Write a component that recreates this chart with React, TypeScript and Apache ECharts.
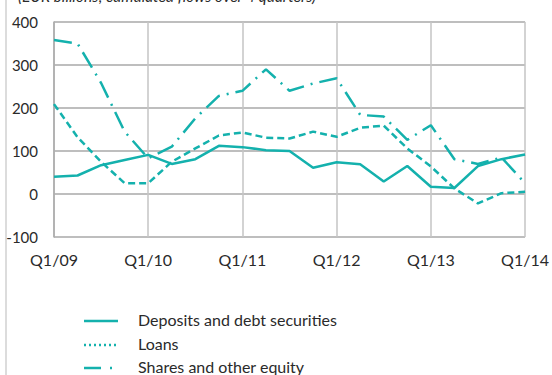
import React, { useEffect, useRef } from "react";
import * as echarts from "echarts";

const categories = [
  "Q1/09", "Q2/09", "Q3/09", "Q4/09",
  "Q1/10", "Q2/10", "Q3/10", "Q4/10",
  "Q1/11", "Q2/11", "Q3/11", "Q4/11",
  "Q1/12", "Q2/12", "Q3/12", "Q4/12",
  "Q1/13", "Q2/13", "Q3/13", "Q4/13",
  "Q1/14",
];
const deposits = [40, 43, 67, 79, 91, 70, 81, 112, 109, 102, 100, 61, 74, 69, 29, 65, 17, 14, 65, 81, 92];
const loans = [209, 132, 75, 25, 25, 75, 106, 136, 143, 131, 129, 145, 133, 154, 159, 106, 64, 13, -22, 2, 5];
const shares = [358, 350, 258, 145, 83, 110, 176, 228, 240, 290, 240, 257, 269, 184, 180, 126, 160, 81, 70, 85, 25];
const yTicks = { min: -100, max: 400, interval: 100 };
const title = "(EUR billions; cumulated flows over 4 quarters)";
const seriesNames = ["Deposits and debt securities", "Loans", "Shares and other equity"];

const COLOR = "#14b1ad";
const TEXT = "#2a2a2a";
const FONT = "Lato, 'Open Sans', sans-serif";

export default function App() {
  const ref = useRef<HTMLDivElement>(null);
  useEffect(() => {
    if (!ref.current) return;
    const chart = echarts.init(ref.current, undefined, { renderer: "svg" });
    const legendRows = [321, 345, 368];
    const legendX0 = 84;
    const legendX1 = 118;
    const legendTextX = 138;
    const legendGraphics: any[] = [];
    seriesNames.forEach((name, i) => {
      const y = legendRows[i];
      if (i === 0) {
        legendGraphics.push({
          type: "line",
          shape: { x1: legendX0, y1: y, x2: legendX1, y2: y },
          style: { stroke: COLOR, lineWidth: 2.5 },
          silent: true,
        });
      } else if (i === 1) {
        legendGraphics.push({
          type: "line",
          shape: { x1: legendX0, y1: y, x2: legendX1, y2: y },
          style: { stroke: COLOR, lineWidth: 2.5, lineDash: [2, 3] },
          silent: true,
        });
      } else {
        legendGraphics.push({
          type: "line",
          shape: { x1: legendX0, y1: y, x2: legendX0 + 17, y2: y },
          style: { stroke: COLOR, lineWidth: 2.5 },
          silent: true,
        });
        legendGraphics.push({
          type: "line",
          shape: { x1: legendX0 + 26, y1: y, x2: legendX0 + 28, y2: y },
          style: { stroke: COLOR, lineWidth: 2.5 },
          silent: true,
        });
      }
      legendGraphics.push({
        type: "text",
        left: legendTextX,
        top: y - 10,
        style: { text: name, fontSize: 16, fontFamily: FONT, fill: TEXT },
        silent: true,
      });
    });

    chart.setOption({
      animation: false,
      backgroundColor: "#ffffff",
      textStyle: { fontFamily: FONT },
      grid: { left: 54, right: 24, top: 22, bottom: 138, containLabel: false },
      xAxis: {
        type: "category",
        data: categories,
        boundaryGap: false,
        axisLine: { show: false },
        axisTick: { show: false },
        axisLabel: {
          interval: 3,
          margin: 14,
          fontSize: 16,
          color: TEXT,
          fontFamily: FONT,
        },
        splitLine: {
          show: true,
          interval: 3,
          lineStyle: { color: "#c4c4c4", width: 1.5 },
        },
      },
      yAxis: {
        type: "value",
        min: yTicks.min,
        max: yTicks.max,
        interval: yTicks.interval,
        axisLine: { show: true, lineStyle: { color: "#a8a8a8", width: 1.5 } },
        axisTick: { show: false },
        axisLabel: {
          margin: 16,
          fontSize: 15,
          color: TEXT,
          fontFamily: FONT,
        },
        splitLine: { show: true, lineStyle: { color: "#a8a8a8", width: 1.5 } },
      },
      graphic: [
        {
          type: "line",
          shape: { x1: 6, y1: 0, x2: 6, y2: 375 },
          style: { stroke: "#d0d0d0", lineWidth: 1.5 },
          silent: true,
        },
        {
          type: "text",
          left: 18,
          top: -12,
          style: {
            text: title,
            fontSize: 15.5,
            fontStyle: "italic",
            fontFamily: FONT,
            fill: TEXT,
          },
          silent: true,
        },
        ...legendGraphics,
      ],
      series: [
        {
          name: seriesNames[0],
          type: "line",
          data: deposits,
          symbol: "none",
          lineStyle: { color: COLOR, width: 2.5, type: "solid" },
          itemStyle: { color: COLOR },
        },
        {
          name: seriesNames[1],
          type: "line",
          data: loans,
          symbol: "none",
          lineStyle: { color: COLOR, width: 2.5, type: [7, 4] },
          itemStyle: { color: COLOR },
        },
        {
          name: seriesNames[2],
          type: "line",
          data: shares,
          symbol: "none",
          lineStyle: { color: COLOR, width: 2.5, type: [18, 7, 2, 7] },
          itemStyle: { color: COLOR },
        },
      ],
    });
    return () => chart.dispose();
  }, []);
  return <div ref={ref} style={{ width: 552, height: 375, position: "absolute", left: 0, top: 0 }} />;
}
